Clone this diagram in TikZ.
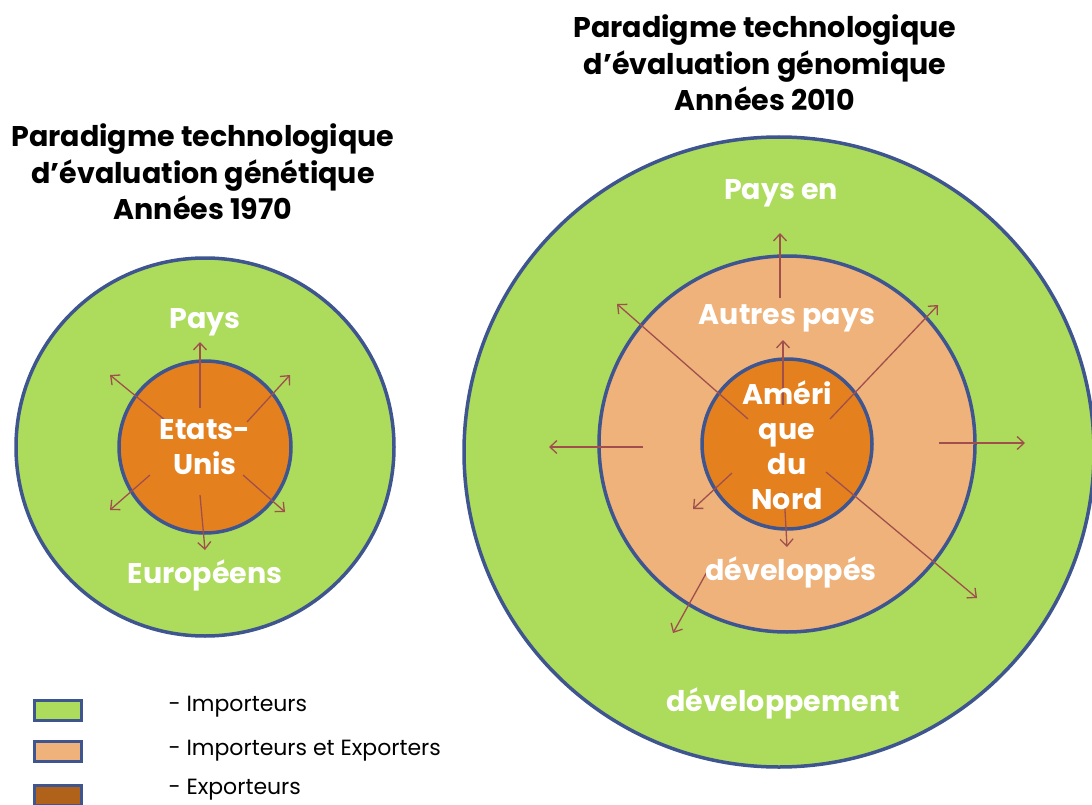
\documentclass[tikz,border=0pt]{standalone}
\usepackage{fontspec}
\setmainfont{Poppins}
\usetikzlibrary{arrows.meta,positioning}
\definecolor{grn}{HTML}{ADDB5C}
\definecolor{peach}{HTML}{EFB27A}
\definecolor{orng}{HTML}{E5801F}
\definecolor{brwn}{HTML}{B0621B}
\definecolor{ringblue}{HTML}{3E5590}
\definecolor{arrowred}{HTML}{A04F4D}

\begin{document}
\begin{tikzpicture}[x=1pt, y=-1pt,
  ring/.style={circle, draw=ringblue, line width=3.5pt, inner sep=0pt},
  ttl/.style={align=center, font=\fontsize{28.5}{36.5}\selectfont\bfseries},
  lbl/.style={text=white, align=center, font=\fontsize{28.5}{35}\selectfont\bfseries},
  key/.style={draw=ringblue, line width=3pt, minimum width=47pt, minimum height=20pt, inner sep=0pt},
  keytxt/.style={anchor=west, font=\fontsize{22}{24}\selectfont},
  arr/.style={-{Straight Barb[length=7pt, width=13pt]}, draw=arrowred, line width=1.3pt}
]
\useasboundingbox (0,0) rectangle (1092,805);

% 1970 : evaluation genetique
\node[ttl] (title70) at (203,172) {Paradigme technologique\\d’évaluation génétique\\Années 1970};
\node[ring, fill=grn, minimum size=378pt] (euOuter) at (205,447) {};
\node[ring, fill=orng, minimum size=172pt] (usInner) at (205,447) {};

\coordinate (usUpA) at (200,408);  \coordinate (usUpB) at (200,342);
\coordinate (usUlA) at (165,420);  \coordinate (usUlB) at (110,375);
\coordinate (usUrA) at (247,422);  \coordinate (usUrB) at (290,375);
\coordinate (usLlA) at (150,475);  \coordinate (usLlB) at (110,510);
\coordinate (usLrA) at (243,475);  \coordinate (usLrB) at (285,512);
\coordinate (usDnA) at (200,495);  \coordinate (usDnB) at (205,550);
\draw[arr] (usUpA) -- (usUpB);
\draw[arr] (usUlA) -- (usUlB);
\draw[arr] (usUrA) -- (usUrB);
\draw[arr] (usLlA) -- (usLlB);
\draw[arr] (usLrA) -- (usLrB);
\draw[arr] (usDnA) -- (usDnB);

\node[lbl] (paysEu) at (205,322) {Pays};
\node[lbl] (usTxt) at (205,447) {Etats-\\Unis};
\node[lbl] (europe) at (205,575) {Européens};

% 2010 : evaluation genomique
\node[ttl] (title10) at (765,63) {Paradigme technologique\\d’évaluation génomique\\Années 2010};
\node[ring, fill=grn, minimum size=630pt] (pedOuter) at (779,452) {};
\node[ring, fill=peach, minimum size=376pt] (devMid) at (787,444) {};
\node[ring, fill=orng, minimum size=170pt] (naInner) at (787,444) {};

\coordinate (naUpA) at (780,298);  \coordinate (naUpB) at (780,233);
\coordinate (naInA) at (783,405);  \coordinate (naInB) at (783,340);
\coordinate (naUlA) at (748,419);  \coordinate (naUlB) at (617,304);
\coordinate (naUrA) at (830,419);  \coordinate (naUrB) at (938,305);
\coordinate (naLfA) at (643,447);  \coordinate (naLfB) at (549,447);
\coordinate (naRtA) at (939,443);  \coordinate (naRtB) at (1025,443);
\coordinate (naLlA) at (732,473);  \coordinate (naLlB) at (693,509);
\coordinate (naDnA) at (784,492);  \coordinate (naDnB) at (787,547);
\coordinate (naLrA) at (826,472);  \coordinate (naLrB) at (977,598);
\coordinate (naBlA) at (708,570);  \coordinate (naBlB) at (673,633);
\draw[arr] (naUpA) -- (naUpB);
\draw[arr] (naInA) -- (naInB);
\draw[arr] (naUlA) -- (naUlB);
\draw[arr] (naUrA) -- (naUrB);
\draw[arr] (naLfA) -- (naLfB);
\draw[arr] (naRtA) -- (naRtB);
\draw[arr] (naLlA) -- (naLlB);
\draw[arr] (naDnA) -- (naDnB);
\draw[arr] (naLrA) -- (naLrB);
\draw[arr] (naBlA) -- (naBlB);

\node[lbl] (paysEn) at (781,193) {Pays en};
\node[lbl] (autres) at (787,318) {Autres pays};
\node[lbl] (naTxt) at (787,445) {Améri\\que\\du\\Nord};
\node[lbl] (devTxt) at (791,572) {développés};
\node[lbl] (devmt) at (783,703) {développement};

% legende
\node[key, fill=grn] (keyImp) at (58,710) {};
\node[key, fill=peach] (keyBoth) at (58,751) {};
\node[key, fill=brwn] (keyExp) at (58,795) {};
\node[keytxt] (txtImp) at (165,707) {- Importeurs};
\node[keytxt] (txtBoth) at (165,751) {- Importeurs et Exporters};
\node[keytxt] (txtExp) at (165,790) {- Exporteurs};
\end{tikzpicture}
\end{document}
